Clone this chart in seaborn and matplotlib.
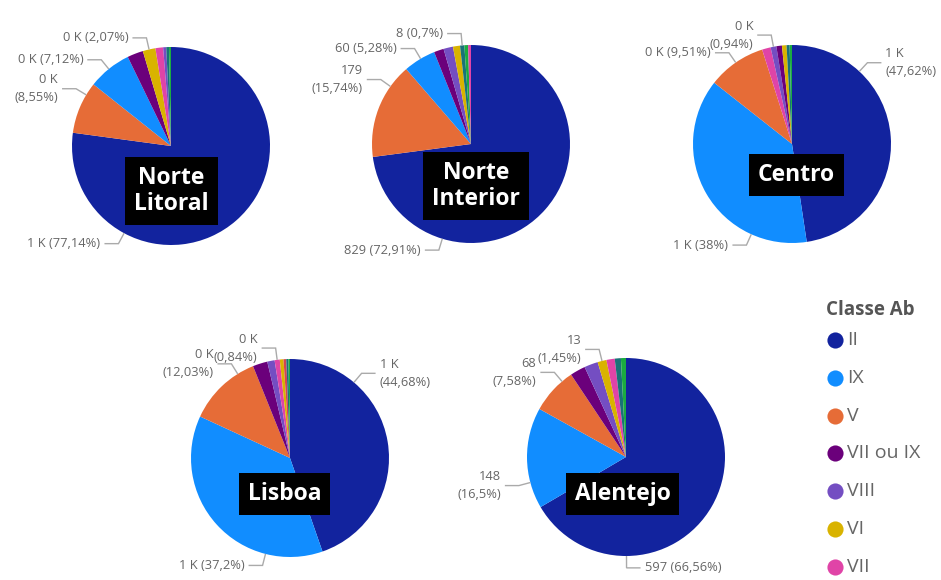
import numpy as np
import matplotlib
matplotlib.use("Agg")
import matplotlib.pyplot as plt
import seaborn as sns

# ---------------- data ----------------
regions = ["Norte Litoral", "Norte Interior", "Centro", "Lisboa", "Alentejo"]
region_titles = ["Norte\nLitoral", "Norte\nInterior", "Centro", "Lisboa", "Alentejo"]

# legend is cut off after "VII"; the last three classes are not visible in it
classes = ["II", "IX", "V", "VII ou IX", "VIII", "VI", "VII", "Outra 1", "Outra 2", "Outra 3"]
class_colors = ["#12239E", "#118DFF", "#E66C37", "#6B007B", "#744EC2",
                "#D9B300", "#E044A7", "#D64550", "#197278", "#1AAB40"]

# share (%) of each class, in the order of `classes`
pct_norte_litoral = [77.14, 7.12, 8.55, 2.60, 0.50, 2.07, 1.25, 0.00, 0.45, 0.32]
pct_norte_interior = [72.91, 5.28, 15.74, 1.60, 1.55, 1.15, 0.47, 0.00, 0.70, 0.60]
pct_centro = [47.62, 38.00, 9.51, 0.90, 0.94, 0.75, 1.40, 0.00, 0.50, 0.38]
pct_lisboa = [44.68, 37.20, 12.03, 2.40, 1.20, 0.60, 0.84, 0.45, 0.35, 0.25]
pct_alentejo = [66.56, 16.50, 7.58, 2.50, 2.24, 1.45, 1.35, 0.00, 1.00, 0.82]

# data labels shown on each pie: (class, text)
labels_norte_litoral = [("II", "1 K (77,14%)"), ("V", "0 K\n(8,55%)"),
                        ("IX", "0 K (7,12%)"), ("VI", "0 K (2,07%)")]
labels_norte_interior = [("II", "829 (72,91%)"), ("V", "179\n(15,74%)"),
                         ("IX", "60 (5,28%)"), ("Outra 2", "8 (0,7%)")]
labels_centro = [("II", "1 K\n(47,62%)"), ("IX", "1 K (38%)"),
                 ("V", "0 K (9,51%)"), ("VIII", "0 K\n(0,94%)")]
labels_lisboa = [("II", "1 K\n(44,68%)"), ("IX", "1 K (37,2%)"),
                 ("V", "0 K\n(12,03%)"), ("VII", "0 K\n(0,84%)")]
labels_alentejo = [("II", "597 (66,56%)"), ("IX", "148\n(16,5%)"),
                   ("V", "68\n(7,58%)"), ("VI", "13\n(1,45%)")]

legend_title = "Classe Ab"
legend_entries = ["II", "IX", "V", "VII ou IX", "VIII", "VI", "VII"]

all_pct = [pct_norte_litoral, pct_norte_interior, pct_centro, pct_lisboa, pct_alentejo]
all_labels = [labels_norte_litoral, labels_norte_interior, labels_centro,
              labels_lisboa, labels_alentejo]

# ---------------- layout / style ----------------
W, H = 941, 580
centers_px = [(171, 146), (471, 144), (792, 144), (290, 458), (626, 457)]
title_px = [(171.5, 191), (476, 186), (796.5, 175), (284.5, 494), (622.5, 494)]
RADIUS = 99
# where along each labelled slice (clockwise fraction) the leader line attaches
label_at = [[0.75, 0.76, 0.49, 0.5],
            [0.75, 0.76, 0.54, 0.5],
            [0.25, 0.24, 0.5, 0.5],
            [0.25, 0.25, 0.77, 0.5],
            [0.75, 0.26, 0.76, 0.5]]

sns.set_theme(style="white")
plt.rcParams["font.family"] = ["Open Sans", "DejaVu Sans"]
palette = dict(zip(classes, sns.color_palette(class_colors)))

LABEL_COLOR = "#666666"
LINE_COLOR = "#AAAAAA"

fig = plt.figure(figsize=(W / 100, H / 100), dpi=100)
ax = fig.add_axes([0, 0, 1, 1])


def py(y):
    return H - y


for i, region in enumerate(regions):
    pct = np.array(all_pct[i])
    order = [k for k in np.argsort(-pct, kind="stable") if pct[k] > 0]
    vals = pct[order]
    names = [classes[k] for k in order]
    cx, cy = centers_px[i]
    wedges, _ = ax.pie(vals, colors=[palette[n] for n in names], startangle=90,
                       counterclock=False, center=(cx, py(cy)), radius=RADIUS,
                       wedgeprops=dict(linewidth=0), frame=False)
    wedge_of = dict(zip(names, wedges))
    for j, (cls, text) in enumerate(all_labels[i]):
        w = wedge_of[cls]
        f = label_at[i][j]
        a = np.deg2rad(w.theta2 - f * (w.theta2 - w.theta1))
        ca, sa = np.cos(a), np.sin(a)
        x0, y0 = cx + RADIUS * ca, py(cy) + RADIUS * sa
        x1, y1 = cx + 1.12 * RADIUS * ca, py(cy) + 1.12 * RADIUS * sa
        right = ca >= -0.02
        x2 = x1 + (14 if right else -14)
        ax.plot([x0, x1, x2], [y0, y1, y1], color=LINE_COLOR, lw=1.0,
                solid_capstyle="butt", solid_joinstyle="miter")
        ax.text(x2 + (4 if right else -4), y1, text, ha="left" if right else "right",
                va="center", multialignment="left" if right else "right",
                fontsize=9.3, color=LABEL_COLOR, linespacing=1.5)
    tx, ty = title_px[i]
    ax.text(tx, py(ty), region_titles[i], ha="center", va="center",
            fontsize=16.5, fontweight="bold", color="white", linespacing=1.15,
            bbox=dict(boxstyle="square,pad=0.38", facecolor="black", edgecolor="none"))

# legend
ax.text(826, py(310), legend_title, ha="left", va="center", fontsize=13.5,
        fontweight="bold", color="#555555")
for k, name in enumerate(legend_entries):
    yy = 340 + 37.8 * k
    ax.scatter([835], [py(yy)], s=135, color=palette[name], linewidths=0, zorder=3)
    ax.text(847, py(yy), name, ha="left", va="center", fontsize=14, color="#666666")

ax.set_xlim(0, W)
ax.set_ylim(0, H)
ax.set_aspect("auto")
ax.axis("off")
fig.savefig("out.png", dpi=100, facecolor="white")
